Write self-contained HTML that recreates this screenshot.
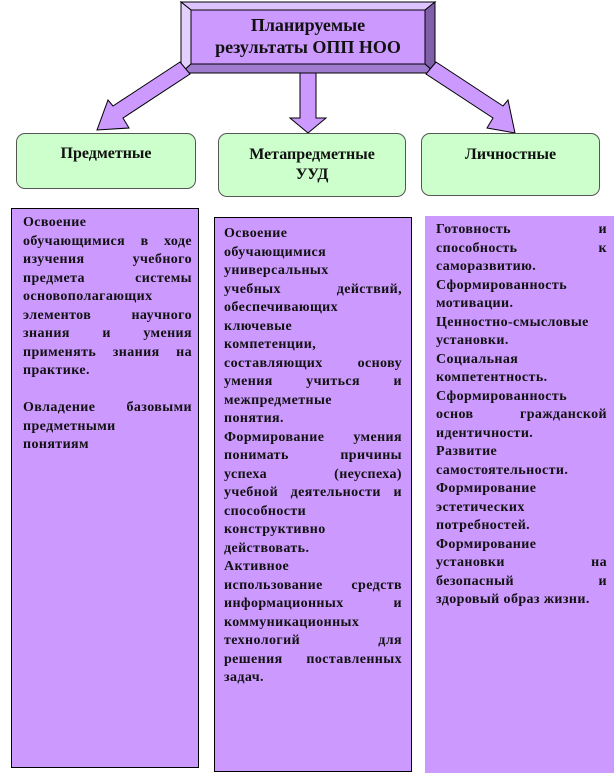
<!DOCTYPE html>
<html><head><meta charset="utf-8"><style>
body{margin:0;width:614px;height:781px;background:#fff;position:relative;overflow:hidden;font-family:"Liberation Serif",serif;}
.g{position:absolute;background:#ccffcc;border:1px solid #555;border-radius:9px;box-sizing:border-box;font-weight:bold;font-size:16px;text-align:center;line-height:20px;color:#111;}
.t{position:absolute;background:#cc99ff;box-sizing:border-box;font-weight:bold;font-size:14px;color:#111;letter-spacing:0.4px;}
.t div{white-space:nowrap;height:18.5px;line-height:18.5px;overflow:visible;}
.t div.j{text-align:justify;text-align-last:justify;}
</style></head><body>
<svg width="614" height="781" style="position:absolute;left:0;top:0">
<polygon points="181,2 435,2 425,10 191,10" fill="#ddc4ff" stroke="#000" stroke-width="1"/>
<polygon points="181,2 191,10 191,64 181,73" fill="#e3d0ff" stroke="#000" stroke-width="1"/>
<polygon points="435,2 435,73 425,64 425,10" fill="#7f5fa8" stroke="#000" stroke-width="1"/>
<polygon points="181,73 435,73 425,64 191,64" fill="#a07ccf" stroke="#000" stroke-width="1"/>
<rect x="191" y="10" width="234" height="54" fill="#cc99ff" stroke="#000"/>
<polygon points="180,62 190,74 123,118 129,128 97,130 108,100 113,106" fill="#cc99ff" stroke="#000"/>
<polygon points="436,62 426,74 493,118 487,128 515,133 508,100 503,106" fill="#cc99ff" stroke="#000"/>
<polygon points="300,73 316,73 316,118 326,118 308,133 290,118 300,118" fill="#cc99ff" stroke="#000"/>
</svg>
<div style="position:absolute;left:191px;top:14px;width:234px;text-align:center;font-weight:bold;font-size:18px;line-height:22px;color:#111">Планируемые<br>результаты ОПП НОО</div>
<div class="g" style="left:16px;top:133px;width:180px;height:56px;padding-top:10px">Предметные</div>
<div class="g" style="left:218px;top:133px;width:188px;height:64px;padding-top:11px">Метапредметные<br>УУД</div>
<div class="g" style="left:421px;top:133px;width:179px;height:63px;padding-top:11px">Личностные</div>
<div class="t" style="left:11px;top:208px;width:188px;height:560px;border:1px solid #000;padding:5px 6px 0 11px">
<div>Освоение</div><div class="j">обучающимися в ходе</div><div class="j">изучения учебного</div><div class="j">предмета системы</div><div>основополагающих</div><div class="j">элементов научного</div><div class="j">знания и умения</div><div class="j">применять знания на</div><div>практике.</div><div></div><div class="j">Овладение базовыми</div><div>предметными</div><div>понятиям</div></div>
<div class="t" style="left:214px;top:217px;width:198px;height:555px;border:1px solid #000;padding:7px 9px 0 9px">
<div>Освоение</div><div>обучающимися</div><div>универсальных</div><div class="j">учебных действий,</div><div>обеспечивающих</div><div>ключевые</div><div>компетенции,</div><div class="j">составляющих основу</div><div class="j">умения учиться и</div><div>межпредметные</div><div>понятия.</div><div class="j">Формирование умения</div><div class="j">понимать причины</div><div class="j">успеха (неуспеха)</div><div class="j">учебной деятельности и</div><div>способности</div><div>конструктивно</div><div>действовать.</div><div>Активное</div><div class="j">использование средств</div><div class="j">информационных и</div><div>коммуникационных</div><div class="j">технологий для</div><div class="j">решения поставленных</div><div>задач.</div></div>
<div class="t" style="left:425px;top:216px;width:189px;height:557px;padding:5px 7px 0 11px">
<div class="j">Готовность и</div><div class="j">способность к</div><div>саморазвитию.</div><div>Сформированность</div><div>мотивации.</div><div>Ценностно-смысловые</div><div>установки.</div><div>Социальная</div><div>компетентность.</div><div>Сформированность</div><div class="j">основ гражданской</div><div>идентичности.</div><div>Развитие</div><div>самостоятельности.</div><div>Формирование</div><div>эстетических</div><div>потребностей.</div><div>Формирование</div><div class="j">установки на</div><div class="j">безопасный и</div><div>здоровый образ жизни.</div></div>
</body></html>
